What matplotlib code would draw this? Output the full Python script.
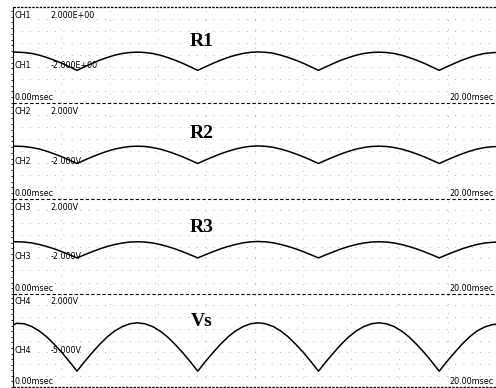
import matplotlib
matplotlib.use("Agg")
import matplotlib.pyplot as plt

# ---- data (screen units: 0 = panel bottom, 100 = panel top) ----
time_ms = [0.0,
           0.15, 0.46, 0.78, 1.09, 1.40, 1.71, 2.03, 2.34, 2.65, 2.96, 3.28, 3.59, 3.90, 4.21, 4.53, 4.84,
           5.15, 5.46, 5.78, 6.09, 6.40, 6.71, 7.03, 7.34, 7.65, 7.96, 8.28, 8.59, 8.90, 9.21, 9.53, 9.84,
           10.15, 10.46, 10.78, 11.09, 11.40, 11.71, 12.03, 12.34, 12.65, 12.96, 13.28, 13.59, 13.90, 14.21, 14.53, 14.84,
           15.15, 15.46, 15.78, 16.09, 16.40, 16.71, 17.03, 17.34, 17.65, 17.96, 18.28, 18.59, 18.90, 19.21, 19.53, 19.84,
           20.0]

r1 = [53,
      53, 52.6, 51.6, 49.8, 47.4, 44.6, 41.3, 37.7, 34, 37.7, 41.3, 44.6, 47.4, 49.8, 51.6, 52.6,
      53, 52.6, 51.6, 49.8, 47.4, 44.6, 41.3, 37.7, 34, 37.7, 41.3, 44.6, 47.4, 49.8, 51.6, 52.8,
      53.2, 52.8, 51.8, 49.8, 47.4, 44.6, 41.3, 37.7, 34, 37.7, 41.3, 44.6, 47.4, 49.8, 51.6, 52.6,
      53, 52.6, 51.6, 49.8, 47.4, 44.6, 41.3, 37.7, 34, 37.7, 41.3, 44.6, 47.4, 49.8, 51.6, 52.4,
      52.6]
r2 = [55,
      55, 54.7, 53.6, 52.0, 49.7, 47.0, 43.9, 40.5, 37, 40.5, 43.9, 47.0, 49.7, 52.0, 53.6, 54.7,
      55, 54.7, 53.6, 52.0, 49.7, 47.0, 43.9, 40.5, 37, 40.5, 43.9, 47.0, 49.7, 52.0, 53.8, 54.9,
      55.3, 54.9, 53.8, 52.0, 49.7, 47.0, 43.9, 40.5, 37, 40.5, 43.9, 47.0, 49.7, 52.0, 53.6, 54.7,
      55, 54.7, 53.6, 52.0, 49.7, 47.0, 43.9, 40.5, 37, 40.5, 43.9, 47.0, 49.7, 52.0, 53.6, 54.4,
      54.6]
r3 = [55,
      55, 54.7, 53.7, 52.1, 50.0, 47.5, 44.5, 41.3, 38, 41.3, 44.5, 47.5, 50.0, 52.1, 53.7, 54.7,
      55, 54.7, 53.7, 52.1, 50.0, 47.5, 44.5, 41.3, 38, 41.3, 44.5, 47.5, 50.0, 52.1, 53.9, 54.9,
      55.3, 54.9, 53.9, 52.1, 50.0, 47.5, 44.5, 41.3, 38, 41.3, 44.5, 47.5, 50.0, 52.1, 53.7, 54.7,
      55, 54.7, 53.7, 52.1, 50.0, 47.5, 44.5, 41.3, 38, 41.3, 44.5, 47.5, 50.0, 52.1, 53.7, 54.4,
      54.6]
vs = [66.5,
      68.5, 68.0, 65.0, 60.2, 53.8, 45.9, 36.9, 27.2, 17, 27.2, 36.9, 45.9, 53.8, 60.2, 65.0, 68.0,
      69, 68.0, 65.0, 60.2, 53.8, 45.9, 36.9, 27.2, 17, 27.2, 36.9, 45.9, 53.8, 60.2, 65.0, 68.0,
      69, 68.0, 65.0, 60.2, 53.8, 45.9, 36.9, 27.2, 17, 27.2, 36.9, 45.9, 53.8, 60.2, 65.0, 68.0,
      69, 68.0, 65.0, 60.2, 53.8, 45.9, 36.9, 27.2, 17, 27.2, 36.9, 45.9, 53.8, 60.2, 64.5, 67.0,
      67.5]

panel_names = ["R1", "R2", "R3", "Vs"]
channels = ["CH1", "CH2", "CH3", "CH4"]
top_scale = ["2.000E+00", "2.000V", "2.000V", "2.000V"]
mid_scale = ["-2.000E+00", "-2.000V", "-2.000V", "-5.000V"]
t_start = "0.00msec"
t_end = "20.00msec"
series = [r1, r2, r3, vs]

# ---- layout ----
W, H = 496, 388
bounds = [7, 103, 199, 294, 387]
left_px = 13
name_y = [0.64, 0.68, 0.70, 0.70]

fig = plt.figure(figsize=(W / 100, H / 100), dpi=100)
fig.patch.set_facecolor("white")

txt_kw = dict(fontsize=5.8, family="DejaVu Sans", color="black")

for i in range(4):
    top, bot = bounds[i], bounds[i + 1]
    ax = fig.add_axes([left_px / W, 1 - bot / H, (W - left_px) / W, (bot - top) / H])
    ax.set_xlim(0, 20)
    ax.set_ylim(0, 100)
    ax.set_facecolor("white")
    for s in ["top", "right", "bottom"]:
        ax.spines[s].set_visible(False)
    ax.spines["left"].set_linewidth(0.8)
    ax.set_xticks([])
    ax.set_yticks(range(0, 101, 6))
    ax.set_yticklabels([])
    ax.tick_params(axis="y", direction="out", length=1.5, width=0.6)

    # faint dotted graticule
    for gy in [12, 25, 38, 50, 62, 75, 88]:
        ax.axhline(gy, color="#999999", lw=0.6, ls=(0, (1, 9)), zorder=0)
    for gx in range(2, 20, 2):
        ax.axvline(gx, color="#aaaaaa", lw=0.6, ls=(0, (1, 10)), zorder=0)

    # top border (dashed)
    if i == 0:
        ax.axhline(100, color="black", lw=0.9, ls=(0, (2, 1)), clip_on=False)
    else:
        ax.axhline(100, color="black", lw=0.8, ls=(0, (3, 2)), clip_on=False)
    if i == 3:
        ax.axhline(0, color="black", lw=0.9, ls=(0, (2, 1)), clip_on=False)

    ax.plot(time_ms, series[i], color="black", lw=1.1, zorder=3, solid_joinstyle="round")

    ax.text(0.003, 0.915, channels[i], transform=ax.transAxes, va="center", ha="left", **txt_kw)
    ax.text(0.077, 0.915, top_scale[i], transform=ax.transAxes, va="center", ha="left", **txt_kw)
    ax.text(0.003, 0.39, channels[i], transform=ax.transAxes, va="center", ha="left", **txt_kw)
    ax.text(0.077, 0.39, mid_scale[i], transform=ax.transAxes, va="center", ha="left", **txt_kw)
    ax.text(0.003, 0.06, t_start, transform=ax.transAxes, va="center", ha="left", **txt_kw)
    ax.text(0.996, 0.06, t_end, transform=ax.transAxes, va="center", ha="right", **txt_kw)

    ax.text(0.39, name_y[i], panel_names[i], transform=ax.transAxes, va="center", ha="center",
            fontsize=14, fontweight="bold", family="Liberation Serif", color="black")

fig.savefig("out.png", dpi=100, facecolor="white")
